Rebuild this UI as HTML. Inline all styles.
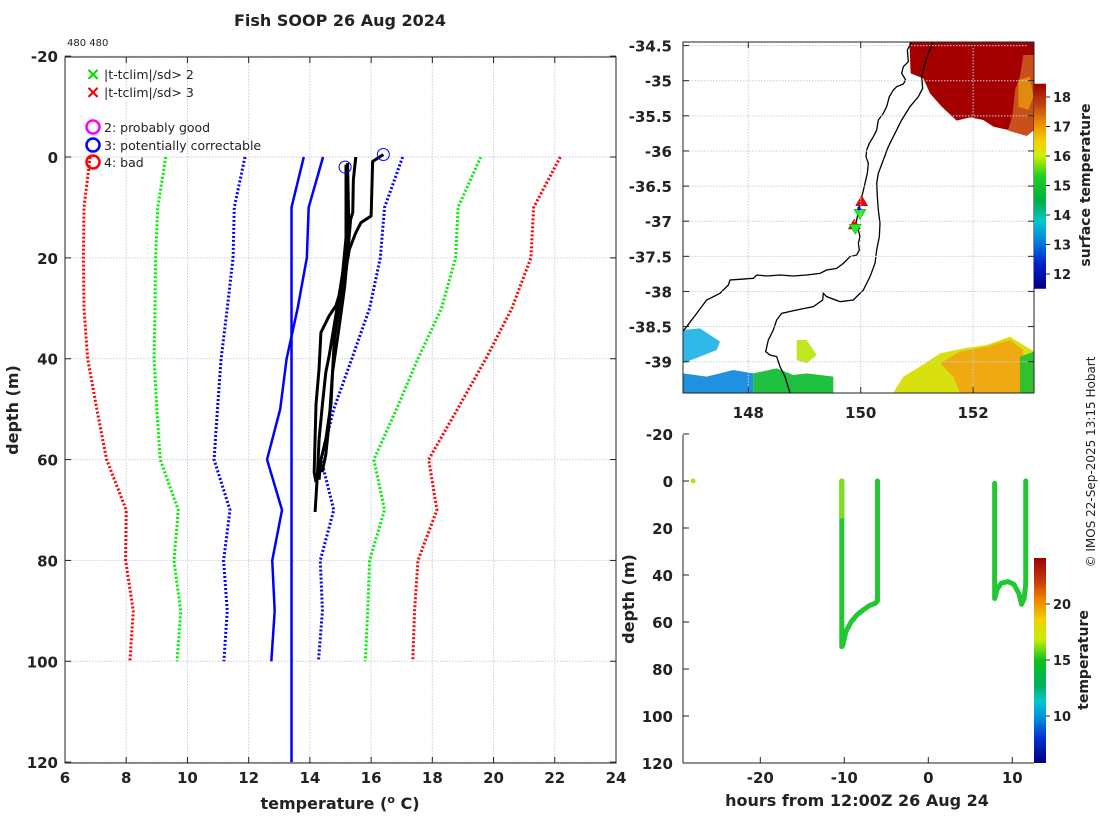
<!DOCTYPE html>
<html><head><meta charset="utf-8"><style>
body{margin:0;background:#fff}
svg text{font-family:"DejaVu Sans","Liberation Sans",sans-serif;fill:#222}
.tk{font-size:15px;font-weight:bold}
.lab{font-size:16px;font-weight:bold}
</style></head><body>
<svg id="s" width="1100" height="820" viewBox="0 0 1100 820" xmlns="http://www.w3.org/2000/svg">
<defs>
<linearGradient id="cb1" x1="0" y1="1" x2="0" y2="0">
<stop offset="0" stop-color="#000080"/><stop offset="0.12" stop-color="#0020d0"/><stop offset="0.25" stop-color="#0090e0"/><stop offset="0.33" stop-color="#00c8c8"/><stop offset="0.43" stop-color="#00b040"/><stop offset="0.55" stop-color="#20d020"/><stop offset="0.65" stop-color="#d0f000"/><stop offset="0.72" stop-color="#f0d000"/><stop offset="0.8" stop-color="#f09000"/><stop offset="0.9" stop-color="#c04010"/><stop offset="1" stop-color="#a00000"/>
</linearGradient>
<linearGradient id="cb2" x1="0" y1="1" x2="0" y2="0">
<stop offset="0" stop-color="#000080"/><stop offset="0.12" stop-color="#0030d0"/><stop offset="0.22" stop-color="#0090e0"/><stop offset="0.3" stop-color="#00c8c8"/><stop offset="0.38" stop-color="#00b060"/><stop offset="0.5" stop-color="#10c020"/><stop offset="0.6" stop-color="#c0f000"/><stop offset="0.7" stop-color="#f0d000"/><stop offset="0.8" stop-color="#f08000"/><stop offset="0.9" stop-color="#c03010"/><stop offset="1" stop-color="#a00000"/>
</linearGradient>
</defs>
<text x="340" y="26" text-anchor="middle" style="font-size:16px;font-weight:bold">Fish SOOP 26 Aug 2024</text>
<text x="67" y="46" style="font-size:10px">480 480</text>
<g id="main"></g>
<g id="map"></g>
<g id="bot"></g>
<text transform="translate(1095,462) rotate(-90)" text-anchor="middle" style="font-size:12px">© IMOS 22-Sep-2025 13:15 Hobart</text>
</svg>
<script>
const NS="http://www.w3.org/2000/svg";
// ---- profile plot data ----
const depthLevels=[0,10,20,30,40,50,60,70,80,90,100];
const climMinus3=[6.82,6.62,6.6,6.62,6.74,7.04,7.36,8.0,7.98,8.23,8.12];
const climMinus2=[9.29,9.03,8.96,8.94,8.91,9.0,9.11,9.7,9.56,9.78,9.66];
const climMinus1=[11.88,11.53,11.49,11.3,11.1,10.98,10.87,11.39,11.18,11.3,11.19];
const climMean=[14.43,13.96,13.9,13.6,13.24,13.03,12.6,13.09,12.77,12.85,12.74];
const climPlus1=[17.03,16.44,16.3,15.95,15.37,14.78,14.37,14.78,14.34,14.41,14.28];
const climPlus2=[19.58,18.84,18.76,18.3,17.53,16.83,16.09,16.44,15.95,15.89,15.81];
const climPlus3=[22.18,21.31,21.22,20.6,19.75,18.82,17.88,18.15,17.53,17.42,17.36];
const vertDepths=[0,10,120];
const vertTemps=[13.8,13.4,13.4];
const p1Depth=[1.5,16,23,29.5,39.4,42.7,49,56,62.5,70.4];
const p1Temp=[15.18,15.18,15.07,14.9,14.63,14.52,14.41,14.3,14.25,14.17];
const p2Depth=[-0.5,0.9,11.7,13,15,18.3,24,29.5,31.5,34.8,42,49,62.5,64.5];
const p2Temp=[16.4,16.05,16.0,15.67,15.5,15.29,15.13,14.85,14.63,14.36,14.3,14.2,14.14,14.2];
const p3Depth=[0,4.5,11,12.4,19.6,26,33.5,42.7,49,56,60,64];
const p3Temp=[15.5,15.42,15.4,15.33,15.23,15.13,14.96,14.74,14.69,14.52,14.36,14.3];
const p4Depth=[1.2,13,23,29.5,36,42.7,52.6,59,62.5];
const p4Temp=[15.23,15.27,15.13,14.96,14.8,14.74,14.63,14.52,14.4];
const flagTemps=[15.15,16.4];
const flagDepths=[2,-0.5];
const xTicks=[6,8,10,12,14,16,18,20,22,24];
const yTicks=[-20,0,20,40,60,80,100,120];
// ---- time-depth data ----
const hrsA=[-28,-28];const depA=[0,0];
const hrsB=[-10.3,-10.3,-10.3,-10.2,-9.8,-9.2,-8.5,-7.8,-7,-6.3,-6.05,-6.05];
const depB=[0,15,70.5,70,64,60,57,55,53,52,51,0];
const hrsC=[7.9,7.9,8.2,8.7,9.5,10.2,10.8,11.1,11.4,11.6,11.6];
const depC=[1,50,46,43.5,42.8,44,48,52.5,50,44,0];
const hTicks=[-20,-10,0,10];
const dTicks=[-20,0,20,40,60,80,100,120];
const cb2Ticks=[10,15,20];
const cb1Ticks=[12,13,14,15,16,17,18];
const lonTicks=[148,150,152];
const latTicks=[-34.5,-35,-35.5,-36,-36.5,-37,-37.5,-38,-38.5,-39];

function mk(parent,tag,attrs,txt){const e=document.createElementNS(NS,tag);for(const k in attrs)e.setAttribute(k,attrs[k]);if(txt!==undefined)e.textContent=txt;parent.appendChild(e);return e;}
const main=document.getElementById('main');
const mx=t=>65+(t-6)*(551/18), my=d=>157+d*(706/140);
xTicks.forEach(t=>{const g=mk(main,'line',{x1:mx(t),x2:mx(t),y1:57,y2:763,stroke:'#c6cde8','stroke-dasharray':'1.5,1.5'});
});
yTicks.forEach(d=>{const g=mk(main,'line',{x1:65,x2:616,y1:my(d),y2:my(d),stroke:'#c6cde8','stroke-dasharray':'1.5,1.5'});
});
function line(parent,xs,ys,fx,fy,style,name){const pts=xs.map((v,i)=>fx(v)+','+fy(ys[i])).join(' ');const e=mk(parent,'polyline',Object.assign({points:pts,fill:'none','stroke-linejoin':'round'},style));

return e;}
const dotR={stroke:'#ff0000','stroke-width':3,'stroke-dasharray':'2,2'},dotG={stroke:'#00ee00','stroke-width':3,'stroke-dasharray':'2,2'},dotB={stroke:'#0000ff','stroke-width':3,'stroke-dasharray':'2,2'};
line(main,climMinus3,depthLevels,mx,my,dotR,'clim-minus-3sd');
line(main,climMinus2,depthLevels,mx,my,dotG,'clim-minus-2sd');
line(main,climMinus1,depthLevels,mx,my,dotB,'clim-minus-1sd');
line(main,climPlus1,depthLevels,mx,my,dotB,'clim-plus-1sd');
line(main,climPlus2,depthLevels,mx,my,dotG,'clim-plus-2sd');
line(main,climPlus3,depthLevels,mx,my,dotR,'clim-plus-3sd');
line(main,climMean,depthLevels,mx,my,{stroke:'#0000ff','stroke-width':2.5},'clim-mean');
line(main,vertTemps,vertDepths,mx,my,{stroke:'#0000ff','stroke-width':2.5},'reference-profile');
const blk={stroke:'#000','stroke-width':3};
line(main,p1Temp,p1Depth,mx,my,blk,'profile-1');
line(main,p2Temp,p2Depth,mx,my,blk,'profile-2');
line(main,p3Temp,p3Depth,mx,my,blk,'profile-3');
line(main,p4Temp,p4Depth,mx,my,blk,'profile-4');
flagTemps.forEach((t,i)=>{const c=mk(main,'circle',{cx:mx(t),cy:my(flagDepths[i]),r:6,fill:'none',stroke:'#0000ff','stroke-width':1});
});
const bx=mk(main,'rect',{x:65,y:57,width:551,height:706,fill:'none',stroke:'#222','stroke-width':1});

xTicks.forEach(t=>{mk(main,'line',{x1:mx(t),x2:mx(t),y1:763,y2:757,stroke:'#222'});mk(main,'line',{x1:mx(t),x2:mx(t),y1:57,y2:63,stroke:'#222'});
const l=mk(main,'text',{x:mx(t),y:783,'text-anchor':'middle',class:'tk'},t);
});
yTicks.forEach(d=>{mk(main,'line',{x1:65,x2:71,y1:my(d),y2:my(d),stroke:'#222'});mk(main,'line',{x1:610,x2:616,y1:my(d),y2:my(d),stroke:'#222'});
const l=mk(main,'text',{x:58,y:my(d)+6,'text-anchor':'end',class:'tk'},d);
});
let t=mk(main,'text',{x:340,y:809,'text-anchor':'middle',class:'lab'});
t.innerHTML='temperature (<tspan dy="-6" style="font-size:11px">o</tspan><tspan dy="6"> C)</tspan>';

t=mk(main,'text',{transform:'translate(18,410) rotate(-90)','text-anchor':'middle',class:'lab'},'depth (m)');

const lg=mk(main,'g',{});
[['#00dd00',74,'|t-tclim|/sd> 2'],['#ee0000',92,'|t-tclim|/sd> 3']].forEach(a=>{mk(lg,'text',{x:93,y:a[1]+6,'text-anchor':'middle',style:'font-size:18px;font-weight:bold;fill:'+a[0]},'×');
const e=mk(lg,'text',{x:104,y:a[1]+5,style:'font-size:12.5px'},a[2]);});
[['#ff00ff',127,'2: probably good'],['#0000ff',145,'3: potentially correctable'],['#ff0000',162,'4: bad']].forEach(a=>{mk(lg,'circle',{cx:93,cy:a[1],r:6.5,fill:'none',stroke:a[0],'stroke-width':2.5});
const e=mk(lg,'text',{x:104,y:a[1]+5,style:'font-size:12.5px'},a[2]);});

// ---- map ----
const map=document.getElementById('map');
const lx=l=>748.3+(l-148)*56.2, ly=a=>80.7+(-35-a)*70.25;
const zx=X=>620+X/3, zy=Y=>30+Y/3;
const clip=mk(map,'clipPath',{id:'mc'});mk(clip,'rect',{x:683,y:42,width:351,height:351});
const mg=mk(map,'g',{'clip-path':'url(#mc)'});
function poly(pts,fill,name){const e=mk(mg,'polygon',{points:pts.map(p=>zx(p[0])+','+zy(p[1])).join(' '),fill:fill});
}
poly([[868,35],[1243,35],[1243,75],[1212,80],[1200,140],[1185,200],[1178,260],[1165,300],[1120,290],[1090,270],[1050,262],[1010,272],[965,230],[930,190],[910,145],[872,130]],'#a50000','sst-warm-patch');
poly([[1210,75],[1243,75],[1243,300],[1220,318],[1165,302],[1178,250],[1185,180],[1200,140]],'#c8501a','sst-orange-strip');
poly([[1195,150],[1230,140],[1240,200],[1225,240],[1195,230]],'#e08a10','sst-orange-core');
poly([[188,900],[240,895],[300,935],[290,960],[240,980],[188,1000]],'#30b8e8','sst-cool-patch');
poly([[188,1030],[260,1040],[340,1020],[400,1030],[400,1088],[188,1088]],'#2090e0','sst-blue-patch');
poly([[400,1030],[470,1015],[520,1035],[560,1030],[640,1040],[640,1088],[400,1088]],'#20c040','sst-green-patch');
poly([[530,930],[560,930],[590,975],[560,1000],[530,990]],'#c0e820','sst-yellow-patch');
poly([[820,1088],[850,1040],[900,1010],[960,970],[1030,955],[1100,945],[1170,920],[1243,965],[1243,1088]],'#d8e010','sst-yellow-patch');
poly([[960,1000],[1020,965],[1100,950],[1170,930],[1210,960],[1200,1088],[1020,1088],[1000,1040]],'#eeaa10','sst-orange-patch');
poly([[1200,980],[1243,965],[1243,1088],[1200,1088]],'#30c030','sst-green-edge');
latTicks.forEach(a=>{const g=mk(map,'line',{x1:683,x2:1034,y1:ly(a),y2:ly(a),stroke:'#c6cde8','stroke-dasharray':'1.5,1.5'});});
lonTicks.forEach(l=>{const g=mk(map,'line',{x1:lx(l),x2:lx(l),y1:42,y2:393,stroke:'#c6cde8','stroke-dasharray':'1.5,1.5'});});
const coast=[[875,35],[862,60],[865,95],[850,110],[845,130],[857,150],[850,162],[830,170],[820,180],[808,200],[800,230],[790,250],[775,270],[770,300],[760,320],[748,340],[740,360],[738,380],[745,400],[742,430],[735,460],[728,490],[722,510],[718,530],[712,560],[708,580],[715,600],[720,620],[715,640],[718,660],[710,675],[690,680],[670,700],[650,715],[620,720],[600,730],[560,735],[520,738],[480,735],[440,738],[410,735],[400,745],[360,748],[330,750],[325,765],[300,790],[260,810],[230,850],[200,890],[180,915]];
const iso=[[940,35],[925,70],[912,110],[905,140],[908,175],[895,200],[870,230],[845,270],[825,310],[805,350],[790,390],[775,430],[770,460],[772,500],[775,540],[780,580],[778,620],[770,660],[765,700],[750,740],[730,780],[700,810],[660,815],[620,800],[610,790],[608,810],[580,830],[530,840],[485,850],[470,870],[460,900],[445,930],[437,965],[450,975],[470,980],[480,1010],[495,1040],[512,1095]];
[[coast,'coastline'],[iso,'shelf-contour']].forEach(a=>{const e=mk(mg,'polyline',{points:a[0].map(p=>zx(p[0])+','+zy(p[1])).join(' '),fill:'none',stroke:'#000','stroke-width':1.3});});
[[725,515,1],[703,585,1],[720,550,0],[706,595,0]].forEach(p=>{const x=zx(p[0]),y=zy(p[1]);const pts=p[2]?[[x,y-6],[x-6,y+4],[x+6,y+4]]:[[x,y+6],[x-6,y-4],[x+6,y-4]];
const e=mk(mg,'polygon',{points:pts.map(q=>q.join(',')).join(' '),fill:p[2]?'#ff0000':'#22ee22',stroke:p[2]?'#800':'#080','stroke-width':0.5});});
mk(mg,'circle',{cx:zx(718),cy:zy(535),r:2,fill:'#0000ff'});
let fr=mk(map,'rect',{x:683,y:42,width:351,height:351,fill:'none',stroke:'#222'});
latTicks.forEach(a=>{mk(map,'line',{x1:683,x2:689,y1:ly(a),y2:ly(a),stroke:'#222'});mk(map,'line',{x1:1028,x2:1034,y1:ly(a),y2:ly(a),stroke:'#222'});
const l=mk(map,'text',{x:672,y:ly(a)+6,'text-anchor':'end',class:'tk'},a);});
lonTicks.forEach(l=>{mk(map,'line',{x1:lx(l),x2:lx(l),y1:393,y2:387,stroke:'#222'});mk(map,'line',{x1:lx(l),x2:lx(l),y1:42,y2:48,stroke:'#222'});
const e=mk(map,'text',{x:lx(l),y:418,'text-anchor':'middle',class:'tk'},l);});
const c1y=v=>274-(v-12)*29.5;
let cb=mk(map,'rect',{x:1034,y:c1y(18.45),width:12,height:c1y(11.5)-c1y(18.45),fill:'url(#cb1)'});
cb1Ticks.forEach(v=>{mk(map,'line',{x1:1046,x2:1050,y1:c1y(v),y2:c1y(v),stroke:'#222'});const e=mk(map,'text',{x:1053,y:c1y(v)+5,style:'font-size:13px;font-weight:bold'},v);});
t=mk(map,'text',{transform:'translate(1090,185) rotate(-90)','text-anchor':'middle',style:'font-size:14px;font-weight:bold'},'surface temperature');

// ---- time-depth ----
const bot=document.getElementById('bot');
const hx=h=>844.3+(h+10)*8.4, hy=d=>481+d*2.35;
line(bot,hrsA,depA,hx,hy,{stroke:'#a8e818','stroke-width':5,'stroke-linecap':'round'},'surface-point');
line(bot,hrsB,depB,hx,hy,{stroke:'#22c832','stroke-width':5,'stroke-linecap':'round'},'track-segment-1');
line(bot,hrsB.slice(0,2),depB.slice(0,2),hx,hy,{stroke:'#7ee020','stroke-width':5,'stroke-linecap':'round'},'track-warm-top');
line(bot,hrsC,depC,hx,hy,{stroke:'#22c832','stroke-width':5,'stroke-linecap':'round'},'track-segment-2');
mk(bot,'line',{x1:683,x2:683,y1:435,y2:763,stroke:'#222'});mk(bot,'line',{x1:683,x2:1034,y1:763,y2:763,stroke:'#222'});
hTicks.forEach(h=>{mk(bot,'line',{x1:hx(h),x2:hx(h),y1:763,y2:757,stroke:'#222'});const e=mk(bot,'text',{x:hx(h),y:783,'text-anchor':'middle',class:'tk'},h);});
dTicks.forEach(d=>{mk(bot,'line',{x1:683,x2:689,y1:hy(d),y2:hy(d),stroke:'#222'});const e=mk(bot,'text',{x:673,y:hy(d)+6,'text-anchor':'end',class:'tk'},d);});
t=mk(bot,'text',{x:857,y:806,'text-anchor':'middle',class:'lab'},'hours from 12:00Z 26 Aug 24');
t=mk(bot,'text',{transform:'translate(634,599) rotate(-90)','text-anchor':'middle',class:'lab'},'depth (m)');
const c2y=v=>716-(v-10)*11.2;
cb=mk(bot,'rect',{x:1034,y:558,width:12,height:205,fill:'url(#cb2)'});
cb2Ticks.forEach(v=>{mk(bot,'line',{x1:1046,x2:1050,y1:c2y(v),y2:c2y(v),stroke:'#222'});const e=mk(bot,'text',{x:1053,y:c2y(v)+5,style:'font-size:13px;font-weight:bold'},v);});
t=mk(bot,'text',{transform:'translate(1088,660) rotate(-90)','text-anchor':'middle',style:'font-size:14px;font-weight:bold'},'temperature');
</script>
</body></html>
